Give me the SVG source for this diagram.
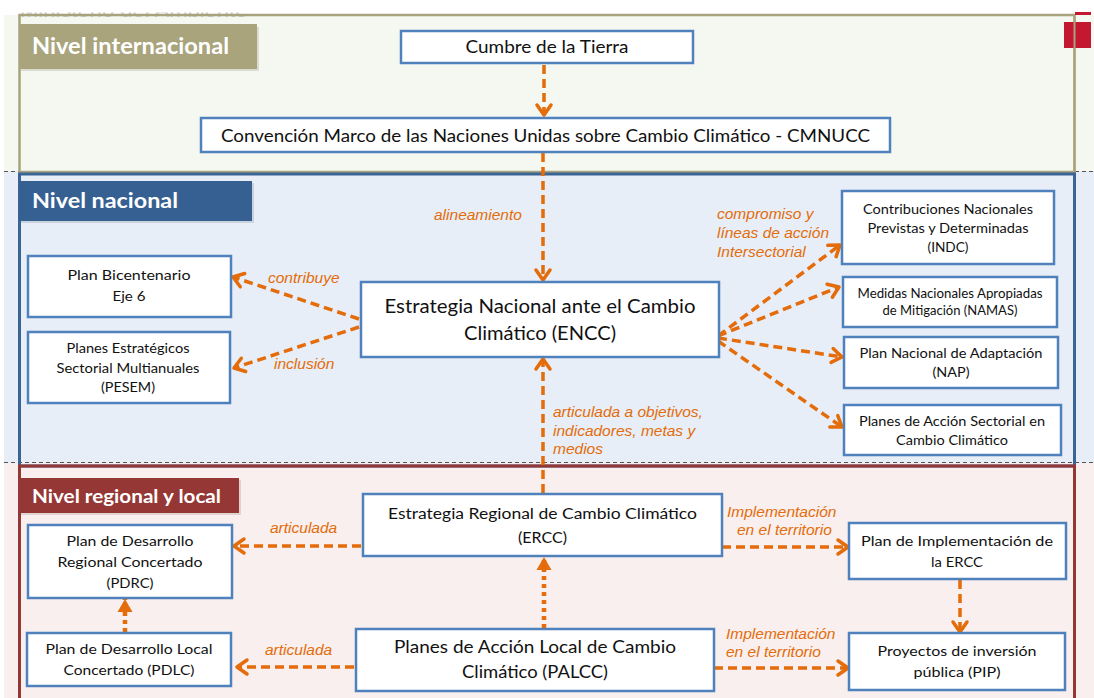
<svg xmlns="http://www.w3.org/2000/svg" width="1094" height="698" viewBox="0 0 1094 698">
<style>
.node rect{fill:#fff;stroke:#4F81BD;stroke-width:2.5}
.node text{font-family:Lato,"Liberation Sans",sans-serif;fill:#111;text-anchor:middle;lengthAdjust:spacingAndGlyphs}
.lbl{font-family:"Liberation Sans",Arial,sans-serif;font-style:italic;font-size:15.5px;fill:#E46C0A}
.title{font-family:Lato,"Liberation Sans",sans-serif;font-weight:bold;fill:#fff}
.c{fill:none;stroke:#E46C0A;stroke-width:3.5;stroke-dasharray:9 5}
.d{fill:none;stroke:#E46C0A;stroke-width:4.5;stroke-dasharray:4 4}
.sep{stroke:#555;stroke-width:1;stroke-dasharray:4 3}
</style>
<defs>
<marker id="ch" markerUnits="userSpaceOnUse" markerWidth="16" markerHeight="18" refX="12" refY="8" orient="auto" overflow="visible">
<path d="M2,1 L12,8 L2,15" fill="none" stroke="#E46C0A" stroke-width="3.5" stroke-linecap="round" stroke-linejoin="round"/>
</marker>
<marker id="tri" markerUnits="userSpaceOnUse" markerWidth="14" markerHeight="16" refX="13" refY="7.5" orient="auto" overflow="visible">
<path d="M0,0 L13,7.5 L0,15 z" fill="#E46C0A"/>
</marker>
<clipPath id="hdr"><rect x="0" y="12.5" width="400" height="5"/></clipPath>
</defs>

<!-- backgrounds -->
<rect x="0" y="0" width="1094" height="698" fill="#fff"/>
<rect x="4" y="15" width="1090" height="156" fill="#F5F7F1"/>
<rect x="4" y="171" width="1090" height="292" fill="#E7EEF7"/>
<rect x="4" y="463" width="1090" height="235" fill="#F8EFEE"/>
<text x="20" y="17" clip-path="url(#hdr)" font-family="Liberation Sans, Arial, sans-serif" font-size="22" fill="#C9C9C9">Ministerio del Ambiente</text>
<line class="sep" x1="4" y1="171.5" x2="1094" y2="171.5"/>
<line class="sep" x1="4" y1="462.5" x2="1094" y2="462.5"/>
<rect x="19.5" y="15" width="1055" height="157" fill="none" stroke="#A8A37C" stroke-width="2.5"/>
<rect x="19.5" y="174" width="1055" height="292" fill="none" stroke="#3A6496" stroke-width="3"/>
<rect x="19.5" y="466" width="1055" height="245" fill="none" stroke="#953735" stroke-width="3"/>
<rect x="1064" y="22" width="27" height="26" fill="#C3182F"/>
<rect x="1075" y="12" width="16" height="3" fill="#C3182F"/>
<line x1="1074.5" y1="15" x2="1074.5" y2="172" stroke="#A8A37C" stroke-width="2"/>

<!-- level titles -->
<g id="lvl-int">
<rect x="21" y="27" width="238" height="44" fill="#C8C8C0" opacity="0.6"/>
<rect x="19" y="24" width="238" height="45" fill="#A9A47C"/>
<text class="title" x="32" y="54" font-size="22" textLength="197" lengthAdjust="spacingAndGlyphs">Nivel internacional</text>
</g>
<g id="lvl-nac">
<rect x="21" y="183" width="233" height="40" fill="#B8C0CC" opacity="0.6"/>
<rect x="19" y="181" width="233" height="40" fill="#376092"/>
<text class="title" x="32" y="208" font-size="20" textLength="146" lengthAdjust="spacingAndGlyphs">Nivel nacional</text>
</g>
<g id="lvl-reg">
<rect x="21" y="480" width="220" height="35" fill="#D0C0C0" opacity="0.6"/>
<rect x="19" y="478" width="220" height="35" fill="#953735"/>
<text class="title" x="32" y="503" font-size="18" textLength="189" lengthAdjust="spacingAndGlyphs">Nivel regional y local</text>
</g>

<!-- connectors -->
<g id="connectors">
<line class="c" x1="544" y1="65" x2="544" y2="115" marker-end="url(#ch)"/>
<line class="c" x1="543" y1="153" x2="543" y2="280" marker-end="url(#ch)"/>
<line class="c" x1="543" y1="493" x2="543" y2="359" marker-end="url(#ch)"/>
<line class="c" x1="359" y1="319" x2="233" y2="277" marker-end="url(#ch)"/>
<line class="c" x1="359" y1="327" x2="234" y2="368" marker-end="url(#ch)"/>
<line class="c" x1="718" y1="336" x2="840" y2="245" marker-end="url(#ch)"/>
<line class="c" x1="718" y1="336" x2="839" y2="287" marker-end="url(#ch)"/>
<line class="c" x1="718" y1="338" x2="842" y2="357" marker-end="url(#ch)"/>
<line class="c" x1="718" y1="341" x2="842" y2="427" marker-end="url(#ch)"/>
<line class="c" x1="361" y1="546" x2="234" y2="546" marker-end="url(#ch)"/>
<line class="c" x1="354" y1="667" x2="237" y2="667" marker-end="url(#ch)"/>
<line class="c" x1="722" y1="547" x2="848" y2="547" marker-end="url(#ch)"/>
<line class="c" x1="714" y1="668" x2="848" y2="668" marker-end="url(#ch)"/>
<line class="c" x1="960" y1="580" x2="960" y2="632" marker-end="url(#ch)"/>
<line class="d" x1="125" y1="632" x2="125" y2="599" marker-end="url(#tri)"/>
<line class="d" x1="544" y1="628" x2="544" y2="557" marker-end="url(#tri)"/>
<text class="lbl" x="434" y="220">alineamiento</text>
<text class="lbl" x="268" y="283">contribuye</text>
<text class="lbl" x="274" y="369">inclusión</text>
<text class="lbl" x="717" y="219">compromiso y</text>
<text class="lbl" x="717" y="238">líneas de acción</text>
<text class="lbl" x="717" y="257">Intersectorial</text>
<text class="lbl" x="553" y="417">articulada a objetivos,</text>
<text class="lbl" x="553" y="436">indicadores, metas y</text>
<text class="lbl" x="553" y="454">medios</text>
<text class="lbl" x="270" y="533">articulada</text>
<text class="lbl" x="265" y="655">articulada</text>
<text class="lbl" x="727" y="517">Implementación</text>
<text class="lbl" x="737" y="535">en el territorio</text>
<text class="lbl" x="726" y="639">Implementación</text>
<text class="lbl" x="726" y="657">en el territorio</text>
</g>

<!-- nodes -->
<g id="cumbre" class="node"><rect x="401" y="31" width="292" height="32"/>
<text x="547" y="53" font-size="16.5" textLength="163" lengthAdjust="spacingAndGlyphs">Cumbre de la Tierra</text></g>
<g id="cmnucc" class="node"><rect x="201" y="118" width="689" height="34"/>
<text x="545.5" y="142" font-size="16.5" textLength="649" lengthAdjust="spacingAndGlyphs">Convención Marco de las Naciones Unidas sobre Cambio Climático - CMNUCC</text></g>
<g id="encc" class="node"><rect x="361" y="282" width="358" height="75"/>
<text x="540" y="313" font-size="19.5" textLength="311" lengthAdjust="spacingAndGlyphs">Estrategia Nacional ante el Cambio</text>
<text x="540" y="340" font-size="19.5" textLength="152" lengthAdjust="spacingAndGlyphs">Climático (ENCC)</text></g>
<g id="bicentenario" class="node"><rect x="28" y="256" width="203" height="61"/>
<text x="129" y="280" font-size="14" textLength="123" lengthAdjust="spacingAndGlyphs">Plan Bicentenario</text>
<text x="129" y="301" font-size="14" textLength="33" lengthAdjust="spacingAndGlyphs">Eje 6</text></g>
<g id="pesem" class="node"><rect x="28" y="332" width="202" height="71"/>
<text x="128" y="353" font-size="14" textLength="123" lengthAdjust="spacingAndGlyphs">Planes Estratégicos</text>
<text x="128" y="373" font-size="14" textLength="143" lengthAdjust="spacingAndGlyphs">Sectorial Multianuales</text>
<text x="128" y="392" font-size="14" textLength="54" lengthAdjust="spacingAndGlyphs">(PESEM)</text></g>
<g id="indc" class="node"><rect x="842" y="191" width="212" height="73"/>
<text x="948" y="214" font-size="14" textLength="170" lengthAdjust="spacingAndGlyphs">Contribuciones Nacionales</text>
<text x="948" y="233" font-size="14" textLength="161" lengthAdjust="spacingAndGlyphs">Previstas y Determinadas</text>
<text x="948" y="252" font-size="14" textLength="41" lengthAdjust="spacingAndGlyphs">(INDC)</text></g>
<g id="namas" class="node"><rect x="843" y="277" width="214" height="50"/>
<text x="950" y="298" font-size="12.5" textLength="185" lengthAdjust="spacingAndGlyphs">Medidas Nacionales Apropiadas</text>
<text x="950" y="315" font-size="12.5" textLength="135" lengthAdjust="spacingAndGlyphs">de Mitigación (NAMAS)</text></g>
<g id="nap" class="node"><rect x="844" y="337" width="214" height="51"/>
<text x="951" y="358" font-size="14" textLength="183" lengthAdjust="spacingAndGlyphs">Plan Nacional de Adaptación</text>
<text x="951" y="377" font-size="14" textLength="37" lengthAdjust="spacingAndGlyphs">(NAP)</text></g>
<g id="sectorial" class="node"><rect x="844" y="405" width="217" height="50"/>
<text x="952" y="426" font-size="14" textLength="186" lengthAdjust="spacingAndGlyphs">Planes de Acción Sectorial en</text>
<text x="952" y="445" font-size="14" textLength="112" lengthAdjust="spacingAndGlyphs">Cambio Climático</text></g>
<g id="ercc" class="node"><rect x="363" y="494" width="359" height="62"/>
<text x="542.5" y="519" font-size="15.5" textLength="309" lengthAdjust="spacingAndGlyphs">Estrategia Regional de Cambio Climático</text>
<text x="542.5" y="543" font-size="15.5" textLength="49" lengthAdjust="spacingAndGlyphs">(ERCC)</text></g>
<g id="palcc" class="node"><rect x="356" y="629" width="358" height="62"/>
<text x="535" y="653" font-size="18" textLength="282" lengthAdjust="spacingAndGlyphs">Planes de Acción Local de Cambio</text>
<text x="535" y="678" font-size="18" textLength="146" lengthAdjust="spacingAndGlyphs">Climático (PALCC)</text></g>
<g id="pdrc" class="node"><rect x="28" y="525" width="204" height="73"/>
<text x="130" y="546" font-size="14" textLength="127" lengthAdjust="spacingAndGlyphs">Plan de Desarrollo</text>
<text x="130" y="567" font-size="14" textLength="145" lengthAdjust="spacingAndGlyphs">Regional Concertado</text>
<text x="130" y="588" font-size="14" textLength="47" lengthAdjust="spacingAndGlyphs">(PDRC)</text></g>
<g id="pdlc" class="node"><rect x="27" y="633" width="204" height="53"/>
<text x="129" y="654" font-size="14" textLength="167" lengthAdjust="spacingAndGlyphs">Plan de Desarrollo Local</text>
<text x="129" y="675" font-size="14" textLength="131" lengthAdjust="spacingAndGlyphs">Concertado (PDLC)</text></g>
<g id="implementacion" class="node"><rect x="849" y="523" width="217" height="56"/>
<text x="957" y="546" font-size="14" textLength="192" lengthAdjust="spacingAndGlyphs">Plan de Implementación de</text>
<text x="957" y="567" font-size="14" textLength="52" lengthAdjust="spacingAndGlyphs">la ERCC</text></g>
<g id="pip" class="node"><rect x="849" y="633" width="216" height="57"/>
<text x="957" y="656" font-size="14" textLength="159" lengthAdjust="spacingAndGlyphs">Proyectos de inversión</text>
<text x="957" y="677" font-size="14" textLength="87" lengthAdjust="spacingAndGlyphs">pública (PIP)</text></g>
</svg>
